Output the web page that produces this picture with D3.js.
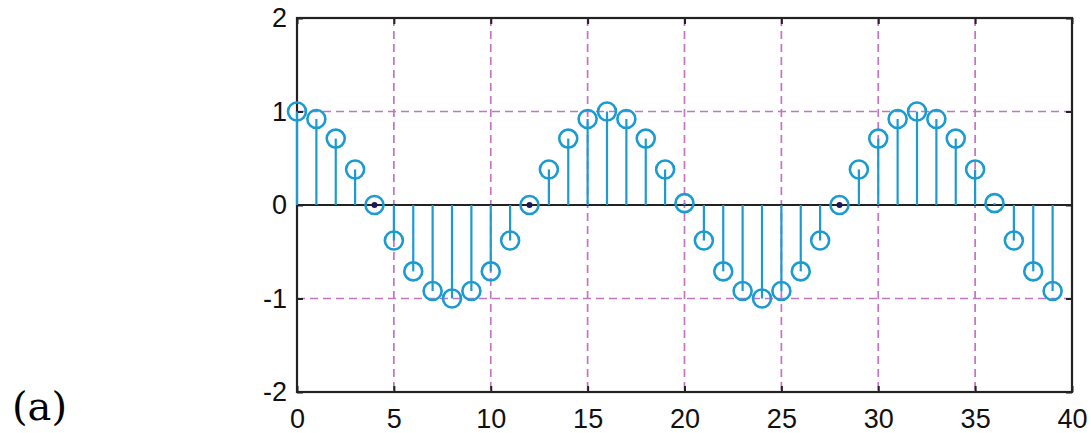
<!DOCTYPE html>
<html>
<head>
<meta charset="utf-8">
<script src="https://cdn.jsdelivr.net/npm/d3@7"></script>
<style>
  body { margin: 0; background: #fff; }
  svg text { font-family: "Liberation Sans", Arial, sans-serif; }
</style>
</head>
<body>
<svg id="chart" width="1091" height="433"></svg>
<script>
const samples = d3.range(40);
const values = [
  1, 0.92, 0.71, 0.38, 0, -0.38, -0.71, -0.92, -1, -0.92,
  -0.71, -0.38, 0, 0.38, 0.71, 0.92, 1, 0.92, 0.71, 0.38,
  0.02, -0.38, -0.71, -0.92, -1, -0.92, -0.71, -0.38, 0, 0.38,
  0.71, 0.92, 1, 0.92, 0.71, 0.38, 0.02, -0.38, -0.71, -0.92
];
const xTicks = [0, 5, 10, 15, 20, 25, 30, 35, 40];
const yTicks = [-2, -1, 0, 1, 2];

const svg = d3.select('#chart');
const mLeft = 297, mRight = 1072, mTop = 18, mBottom = 392;

const x = d3.scaleLinear().domain([0, 40]).range([mLeft, mRight]);
const y = d3.scaleLinear().domain([-2, 2]).range([mBottom, mTop]);

const blue = '#1c9bd1';
const grid = '#c474c2';

// grid
svg.append('g').selectAll('line')
  .data(xTicks.slice(1, -1))
  .enter().append('line')
    .attr('x1', d => x(d)).attr('x2', d => x(d))
    .attr('y1', mTop).attr('y2', mBottom)
    .attr('stroke', grid).attr('stroke-width', 1.7)
    .attr('stroke-dasharray', '8,5');

svg.append('g').selectAll('line')
  .data([-1, 1])
  .enter().append('line')
    .attr('x1', mLeft).attr('x2', mRight)
    .attr('y1', d => y(d)).attr('y2', d => y(d))
    .attr('stroke', grid).attr('stroke-width', 1.7)
    .attr('stroke-dasharray', '8,5');

// axes with inward ticks
svg.append('g')
  .attr('transform', `translate(0,${mBottom})`)
  .call(d3.axisBottom(x).tickValues(xTicks).tickSize(-6).tickPadding(17))
  .call(g => g.select('.domain').remove())
  .call(g => g.selectAll('text').attr('font-size', 27).attr('fill', '#111'));

svg.append('g')
  .attr('transform', `translate(0,${mTop})`)
  .call(d3.axisTop(x).tickValues(xTicks).tickSize(-6).tickFormat(''))
  .call(g => g.select('.domain').remove());

svg.append('g')
  .attr('transform', `translate(${mLeft},0)`)
  .call(d3.axisLeft(y).tickValues(yTicks).tickSize(-6).tickPadding(10)
    .tickFormat(d => String(d)))
  .call(g => g.select('.domain').remove())
  .call(g => g.selectAll('text').attr('font-size', 27).attr('fill', '#111'));

svg.append('g')
  .attr('transform', `translate(${mRight},0)`)
  .call(d3.axisRight(y).tickValues(yTicks).tickSize(-6).tickFormat(''))
  .call(g => g.select('.domain').remove());

svg.selectAll('.tick line').attr('stroke', '#222').attr('stroke-width', 2);

// zero line
svg.append('line')
  .attr('x1', mLeft).attr('x2', mRight)
  .attr('y1', y(0)).attr('y2', y(0))
  .attr('stroke', '#222').attr('stroke-width', 2);

// frame
svg.append('rect')
  .attr('x', mLeft).attr('y', mTop)
  .attr('width', mRight - mLeft).attr('height', mBottom - mTop)
  .attr('fill', 'none').attr('stroke', '#222').attr('stroke-width', 2.2);

// stems
const pts = samples.map((n, i) => ({ n, v: values[i] }));

svg.append('g').selectAll('line')
  .data(pts)
  .enter().append('line')
    .attr('x1', d => x(d.n)).attr('x2', d => x(d.n))
    .attr('y1', y(0)).attr('y2', d => y(d.v))
    .attr('stroke', blue).attr('stroke-width', 2.2);

svg.append('g').selectAll('circle')
  .data(pts)
  .enter().append('circle')
    .attr('cx', d => x(d.n)).attr('cy', d => y(d.v))
    .attr('r', 9)
    .attr('fill', 'none').attr('stroke', blue).attr('stroke-width', 2.6);

svg.append('g').selectAll('circle')
  .data(pts.filter(d => d.v === 0))
  .enter().append('circle')
    .attr('cx', d => x(d.n)).attr('cy', d => y(d.v))
    .attr('r', 3).attr('fill', '#1a1a5a');

svg.append('text')
  .attr('x', 12).attr('y', 420)
  .attr('font-size', 40)
  .style('font-family', '"DejaVu Serif", serif')
  .text('(a)');
</script>
</body>
</html>
